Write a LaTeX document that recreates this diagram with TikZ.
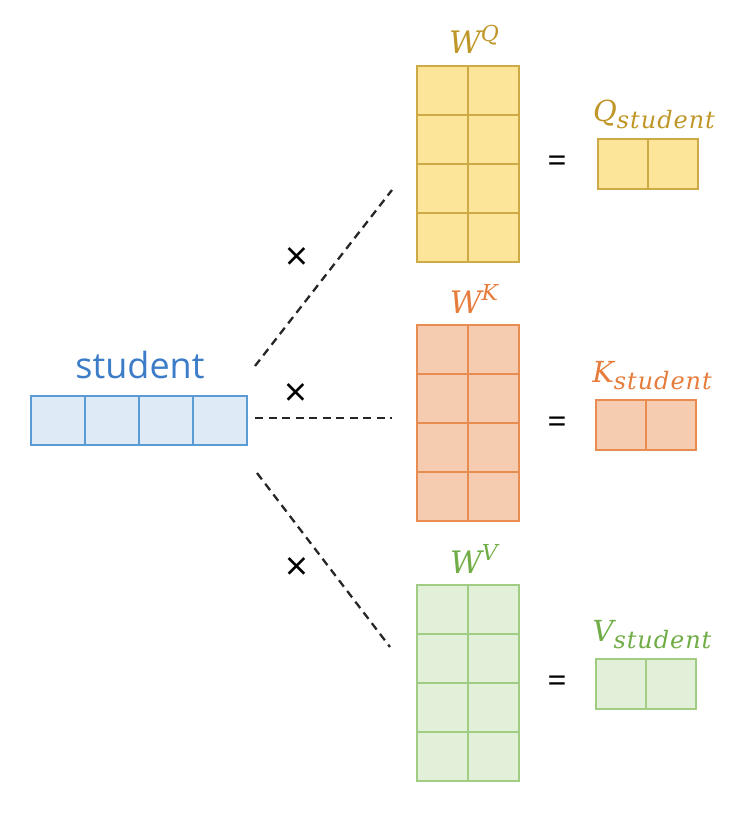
\documentclass[tikz,border=0pt]{standalone}
\usepackage{fontspec}
\setmainfont{Open Sans}
\newfontfamily\italfont{DejaVu Serif}
\newfontfamily\subfont[LetterSpace=4]{DejaVu Serif}

\definecolor{bluefill}{RGB}{222,235,247}
\definecolor{blueline}{RGB}{91,155,213}
\definecolor{bluetext}{RGB}{61,125,200}
\definecolor{qfill}{RGB}{252,229,153}
\definecolor{qline}{RGB}{205,170,70}
\definecolor{qtext}{RGB}{191,150,40}
\definecolor{kfill}{RGB}{246,204,176}
\definecolor{kline}{RGB}{232,140,80}
\definecolor{ktext}{RGB}{230,125,60}
\definecolor{vfill}{RGB}{226,240,217}
\definecolor{vline}{RGB}{160,205,130}
\definecolor{vtext}{RGB}{112,173,71}

\newcommand{\wname}[1]{\italfont\itshape W\raisebox{13pt}{\fontsize{22}{22}\selectfont #1}}
\newcommand{\vecname}[1]{\italfont\itshape #1\raisebox{-7pt}{\subfont\itshape\fontsize{24}{24}\selectfont student}}

\begin{document}
\begin{tikzpicture}[x=1pt, y=-1pt,
    cell/.style={rectangle, draw, line width=2pt, inner sep=0pt, minimum width=51pt, minimum height=49pt},
    dashline/.style={draw=black!85, line width=2.3pt, dash pattern=on 8pt off 5.5pt},
    times/.style={font=\fontsize{40}{40}\selectfont, inner sep=0pt},
    equal/.style={font=\fontsize{34}{34}\selectfont, inner sep=0pt},
    mathlab/.style={font=\fontsize{31}{31}\selectfont, anchor=base, inner sep=0pt}]
    \useasboundingbox (0,0) rectangle (750,816);

    % input word
    \node[font=\fontsize{36}{36}\selectfont, text=bluetext, anchor=base] (stulab) at (140,378) {student};
    \foreach \i in {1,...,4}
        \node[cell, fill=bluefill, draw=blueline, minimum width=54pt] (s\i) at ({31+54*(\i-0.5)},420) {};

    % weight matrices and results
    \foreach \m/\L/\t/\vt/\vl/\cf/\cl/\ct in {q/Q/66/139/598/qfill/qline/qtext, k/K/325/400/596/kfill/kline/ktext, v/V/585/659/596/vfill/vline/vtext} {
        \foreach \r in {1,...,4}
            \foreach \c in {1,2}
                \node[cell, fill=\cf, draw=\cl] (w\m-\r-\c) at ({417+51*(\c-0.5)},{\t+49*(\r-0.5)}) {};
        \node[mathlab, text=\ct] (wlab\m) at (474,{\t-12}) {\wname{\L}};
        \node[equal] (eq\m) at (557,{\vt+25}) {=};
        \foreach \c in {1,2}
            \node[cell, fill=\cf, draw=\cl, minimum width=50pt, minimum height=50pt] (\m-\c) at ({\vl+50*(\c-0.5)},{\vt+25}) {};
        \node[mathlab, text=\ct, font=\fontsize{29}{29}\selectfont] (\m lab) at ({\vl+56},{\vt-18}) {\vecname{\L}};
    }

    % products
    \coordinate (fanq) at (255,366);
    \coordinate (endq) at (392,190);
    \coordinate (fank) at (255,418);
    \coordinate (endk) at (392,418);
    \coordinate (fanv) at (257,473);
    \coordinate (endv) at (390,647);
    \draw[dashline] (fanq) -- (endq);
    \draw[dashline] (fank) -- (endk);
    \draw[dashline] (fanv) -- (endv);
    \node[times] (xq) at (297,259) {×};
    \node[times] (xk) at (296,395) {×};
    \node[times] (xv) at (297,569) {×};
\end{tikzpicture}
\end{document}
